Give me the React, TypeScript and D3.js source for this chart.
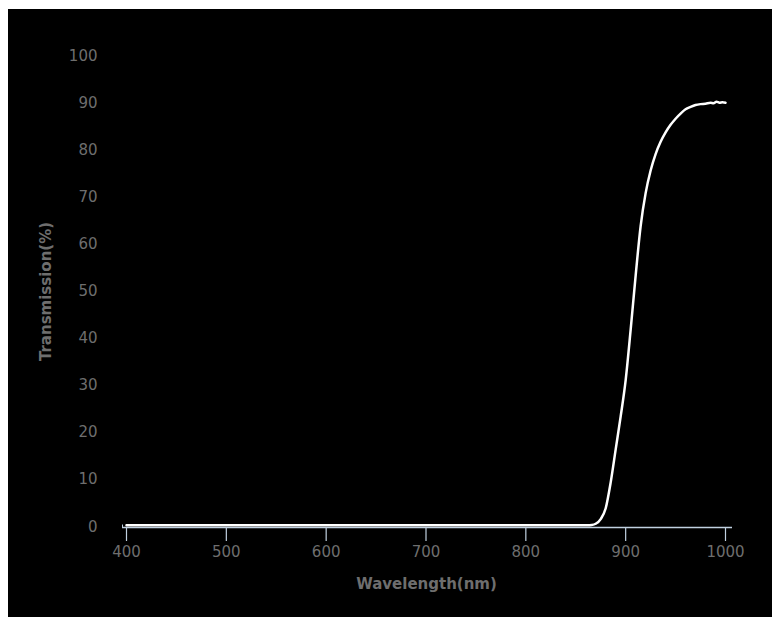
import React from "react";
import * as d3 from "d3";

const wavelengths = [400, 500, 600, 700, 800, 850, 862, 866, 870, 875, 880, 885, 890, 895, 900, 905, 910, 915, 920, 925, 930, 935, 940, 945, 950, 955, 960, 965, 970, 975, 980, 985, 988, 991, 994, 997, 1000];
const transmission = [0, 0, 0, 0, 0, 0, 0, 0.05, 0.3, 1.3, 3.6, 9.1, 16.1, 23.1, 30.8, 41.5, 53, 63.5, 70.5, 75.3, 78.8, 81.4, 83.4, 85, 86.3, 87.4, 88.3, 88.8, 89.2, 89.4, 89.5, 89.7, 89.6, 89.9, 89.7, 89.8, 89.7];
const xTicks = [400, 500, 600, 700, 800, 900, 1000];
const yTicks = [0, 10, 20, 30, 40, 50, 60, 70, 80, 90, 100];
const xTitle = "Wavelength(nm)";
const yTitle = "Transmission(%)";

export default function App() {
  const x = d3.scaleLinear().domain([400, 1000]).range([126.5, 725.5]);
  const y = d3.scaleLinear().domain([0, 100]).range([526, 55]);
  const data = wavelengths.map((w, i) => [w, transmission[i]] as [number, number]);
  const line = d3
    .line<[number, number]>()
    .x((d) => x(d[0]))
    .y((d) => y(d[1]) - 0.8)
    .curve(d3.curveMonotoneX);
  const font = "'DejaVu Sans', Verdana, sans-serif";
  const axisY = 527.5;
  return (
    <svg
      width={772}
      height={617}
      style={{ position: "fixed", left: 0, top: 0, display: "block" }}
    >
      <rect x={0} y={0} width={772} height={617} fill="#ffffff" />
      <rect x={8} y={9} width={764} height={608} fill="#000000" />
      {yTicks.map((t) => (
        <text
          key={"y" + t}
          x={97.5}
          y={y(t) + 5.5}
          textAnchor="end"
          fontFamily={font}
          fontSize={15}
          fill="#6e6e6e"
        >
          {t}
        </text>
      ))}
      <line x1={122} x2={732} y1={axisY} y2={axisY} stroke="#c0d0e0" strokeWidth={1.5} />
      <line x1={122.5} x2={122.5} y1={axisY - 3} y2={axisY} stroke="#c0d0e0" strokeWidth={1} />
      {xTicks.map((t) => (
        <g key={"x" + t}>
          <line x1={x(t)} x2={x(t)} y1={axisY} y2={541} stroke="#c0d0e0" strokeWidth={1.2} />
          <text
            x={x(t)}
            y={557}
            textAnchor="middle"
            fontFamily={font}
            fontSize={15}
            fill="#6e6e6e"
          >
            {t}
          </text>
        </g>
      ))}
      <path d={line(data) || ""} fill="none" stroke="#ffffff" strokeWidth={2.5} strokeLinejoin="round" strokeLinecap="round" />
      <text
        x={426.5}
        y={589}
        textAnchor="middle"
        fontFamily={font}
        fontSize={15}
        fontWeight="bold"
        fill="#6e6e6e"
      >
        {xTitle}
      </text>
      <text
        transform="translate(50.5,291.5) rotate(-90)"
        textAnchor="middle"
        fontFamily={font}
        fontSize={15}
        fontWeight="bold"
        fill="#6e6e6e"
      >
        {yTitle}
      </text>
    </svg>
  );
}
